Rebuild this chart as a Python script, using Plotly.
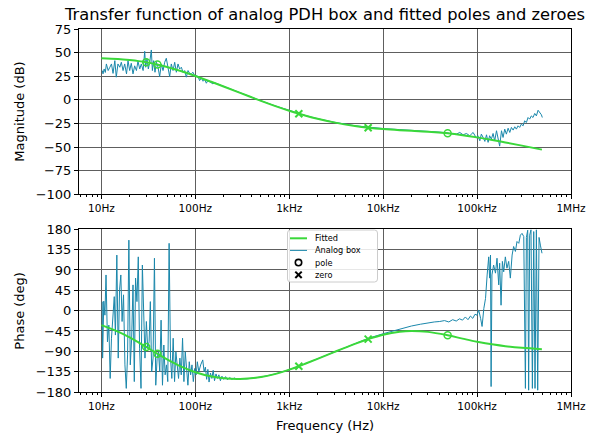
import plotly.graph_objects as go

# ---------------- data ----------------
tick_vals = [10, 100, 1e3, 1e4, 1e5, 1e6]
tick_text = ["10Hz", "100Hz", "1kHz", "10kHz", "100kHz", "1MHz"]

mag_yticks = [-100, -75, -50, -25, 0, 25, 50, 75]
phase_yticks = [-180, -135, -90, -45, 0, 45, 90, 135, 180]

legend_labels = ["Fitted", "Analog box", "pole", "zero"]

# measured "Analog box" magnitude
mag_freq_hz = [
    10.2, 10.4, 10.7, 11.0, 11.3, 11.8, 12.3, 12.8, 13.3, 13.9,
    14.4, 15.0, 15.7, 16.3, 17.0, 17.7, 18.5, 19.2, 20.0, 20.8,
    21.7, 22.6, 23.6, 24.5, 25.6, 26.6, 27.8, 28.9, 29.6, 30.6,
    31.6, 32.7, 34.0, 34.9, 36.0, 37.2, 38.5, 40.1, 41.7, 43.5,
    45.3, 47.2, 49.1, 51.2, 53.3, 55.5, 57.9, 60.3, 62.8, 65.4,
    68.1, 71.0, 73.9, 77.0, 80.2, 83.6, 87.0, 90.7, 94.4, 98.4,
    102, 107, 111, 116, 121, 126, 131, 136, 142, 148, 154,
    160, 170, 180, 200, 230, 260, 300, 400, 500, 700, 1000, 1500,
    2000, 3000, 5000, 7000, 10000, 15000, 20000, 25000, 30000,
    40000, 48000,
    51200, 60300, 65400, 71000, 77000, 83600, 90700, 98400, 102000, 107000,
    111000, 116000, 121000, 126000, 131000, 136000, 142000, 148000, 154000, 161000,
    167000, 174000, 182000, 189000, 197000, 205000, 214000, 223000, 232000, 242000,
    252000, 262000, 273000, 284000, 296000, 309000, 321000, 335000, 349000, 363000,
    378000, 394000, 411000, 428000, 446000, 464000, 484000, 495000,
]
mag_db = [
    31, 27.5, 32.7, 29, 38, 31, 34.5, 38, 28, 41.5,
    24, 38, 34.5, 39.8, 31, 38, 27.5, 41.5, 31, 38.7,
    27.5, 36, 31, 40.8, 32.7, 38, 31, 51.4, 34.5, 43.3,
    32.7, 39.8, 52.8, 31, 41.5, 29.2, 39.8, 34.5, 24.6, 38,
    31, 39.8, 44, 32.7, 24.6, 38, 31, 39.8, 29.2, 38,
    32.7, 34.5, 29.2, 31, 24, 31, 28, 27.5, 29.2, 25.7,
    25.7, 24.6, 20.4, 23.2, 19.7, 21.5, 17.6, 20.4, 19.4, 17.6, 16.9,
    18.2, 17.0, 16.0, 14.3, 12.0, 9.9, 7.5, 2.7, -1.0, -6.2, -11.4, -16.7,
    -19.9, -23.7, -27.4, -29.2, -30.4, -31.5, -32.1, -32.7, -33.2,
    -34.2, -34.9,
    -35.6, -36.3, -34.5, -37, -35.6, -38, -34.5, -40.5, -38, -43.3,
    -36.3, -39.8, -44, -37, -45, -38, -41.5, -35.6, -43.3, -32.7,
    -41.5, -49, -32.7, -39.8, -31, -36.3, -30, -34.5, -29.2, -32,
    -28.5, -31, -27.5, -29.2, -25.7, -27.5, -22.2, -24, -18.7, -20.4,
    -17, -18.7, -14.4, -17, -11, -13.4, -15.8, -18.7,
]

# measured "Analog box" phase
phase_freq_hz = [
    10.2, 10.3, 10.6, 10.9, 11.2, 11.6, 12.0, 12.4, 12.8, 13.3,
    13.7, 14.1, 14.6, 15.1, 15.6, 16.1, 16.6, 17.2, 17.8, 18.4,
    19.0, 19.6, 20.3, 21.0, 21.7, 22.4, 23.1, 23.9, 24.7, 25.5,
    26.4, 27.3, 28.2, 29.1, 30.1, 31.1, 32.2, 33.2, 34.3, 35.5,
    36.7, 37.9, 39.2, 40.5, 41.8, 43.2, 44.7, 46.2, 47.7, 49.3,
    50.9, 52.6, 54.4, 56.2, 58.1, 60.1, 62.1, 64.1, 66.3, 68.5,
    70.8, 73.1, 75.6, 78.1, 80.7, 83.4, 86.2, 89.1, 92.1, 95.2,
    98.4, 102, 105, 109, 114, 120, 124,
    128, 132, 136, 140, 145, 150, 155, 160, 166, 172,
    178, 185, 192, 200, 210, 220, 232, 245, 260, 280,
    300, 350, 400, 500, 700, 1000, 1500, 2000, 3000, 5000,
    7000, 10000, 13000, 16000, 20000, 25000, 30000, 35000, 40000, 45000,
    50000, 55000, 60000, 65000, 70000, 75000, 80000, 85000, 90000, 95000,
    100000, 104000, 109000, 113000, 118000, 123000, 128000, 133000, 136000, 139000,
    141000, 144000, 150000, 157000, 163000, 170000, 174000, 180000, 186000, 192000,
    200000, 208000, 217000, 226000, 236000, 245000, 256000, 266000, 278000, 289000,
    301000, 314000, 327000, 335000, 346000, 354000, 363000, 375000, 388000, 401000,
    414000, 428000, 442000, 457000, 472000, 491000,
]
phase_deg = [
    20, -105, 21, -10, 79, -69, -32, -150, -61, -10,
    31, -54, 123, -105, 46, 79, -24, 35, -120, -172,
    -98, 156, -120, -61, 57, -157, 72, 20, 119, -83,
    -172, 101, -32, -105, -24, -83, -69, 20, -135, -105,
    116, -165, -105, -91, -135, -21, -165, -76, -142, -120,
    -157, 149, -105, -150, -61, -157, -91, -128, -150, -105,
    -142, -61, -157, -91, -128, -165, -113, -142, -120, -157,
    -128, -142, -113, -135, -120, -109, -135,
    -125, -152, -130, -158, -138, -150, -132, -155, -140, -150,
    -142, -155, -145, -152, -146, -153, -148, -152, -149, -152,
    -150.5, -151, -149.5, -147, -140.4, -130.6, -117, -106.5, -91, -72,
    -61, -51, -44, -39, -34, -30, -27, -25, -24, -22,
    -25, -20, -23, -18, -21, -14, -20, -12, -17, -8,
    -10, 1.5, -17, -35, 5, 27, 79, 119, 72, 123,
    -168, 79, 101, 83, 116, 57, 105, 12, 109, 86,
    119, 94, 109, 72, 123, 142, 131, 153, 149, 167,
    171, 164, -172, 162, 178, -176, 167, 179, -172, 175,
    -172, 179, -176, 162, 145, 127,
]

# fitted transfer function (as drawn)
fit_freq_hz = [10, 15, 20, 25, 30, 40, 50, 70, 100, 150, 200, 300, 500, 700,
               1000, 1265, 1500, 2000, 3000, 5000, 7000, 10000, 15000, 20000,
               30000, 48600, 70000, 100000, 150000, 200000, 300000, 490000]
fit_mag_db = [44.0, 43.2, 42.1, 41.0, 39.75, 37.25, 34.84, 30.53, 25.3, 18.83,
              14.08, 7.33, -1.07, -6.34, -11.53, -14.65, -16.75, -19.98, -23.86,
              -27.69, -29.56, -30.97, -32.09, -32.73, -33.73, -35.48, -37.4,
              -39.73, -42.77, -45.1, -48.48, -52.69]
fit_phase_deg = [-32.0, -46.4, -59.2, -70.5, -80.3, -96.0, -107.8, -123.4, -136.3,
                 -145.9, -149.8, -151.2, -146.9, -140.4, -130.6, -123.0, -117.0,
                 -106.55, -91.6, -73.4, -62.6, -53.1, -46.5, -44.9, -46.95, -54.5,
                 -61.86, -68.7, -75.1, -78.66, -82.3, -85.3]

# fitted poles and zeroes
pole_freq_hz = [30, 39.5, 48600]
pole_mag_db = [39.75, 37.4, -35.48]
pole_phase_deg = [-80.3, -95.35, -54.5]
zero_freq_hz = [1265, 6920]
zero_mag_db = [-14.65, -29.5]
zero_phase_deg = [-122.96, -62.9]

# ---------------- styling ----------------
GREEN = "#3ad83a"
BLUE = "#1a87ab"
GRID = "#5e5e5e"
FONT = "DejaVu Sans"

W, H = 598, 436
ML, MR, MT, MB = 79, 27, 29, 44
PW, PH = W - ML - MR, H - MT - MB
top_dom = [0.5446, 1.0]
bot_dom = [0.0, 0.4482]


def px_x(px):
    return (px - ML) / PW


def px_y(py):
    return (H - MB - py) / PH


fig = go.Figure()


def add_set(fx, fy, ax, ay):
    pass


# magnitude panel
fig.add_trace(go.Scatter(x=mag_freq_hz, y=mag_db, mode="lines", name="Analog box",
                         line=dict(color=BLUE, width=1), xaxis="x", yaxis="y"))
fig.add_trace(go.Scatter(x=fit_freq_hz, y=fit_mag_db, mode="lines", name="Fitted",
                         line=dict(color=GREEN, width=2, shape="spline"),
                         xaxis="x", yaxis="y"))
fig.add_trace(go.Scatter(x=pole_freq_hz, y=pole_mag_db, mode="markers", name="pole",
                         marker=dict(symbol="circle-open", size=7, color=GREEN,
                                     line=dict(width=1.5, color=GREEN)),
                         xaxis="x", yaxis="y"))
fig.add_trace(go.Scatter(x=zero_freq_hz, y=zero_mag_db, mode="markers", name="zero",
                         marker=dict(symbol="x-thin", size=7, color=GREEN,
                                     line=dict(width=2, color=GREEN)),
                         xaxis="x", yaxis="y"))

# phase panel
fig.add_trace(go.Scatter(x=phase_freq_hz, y=phase_deg, mode="lines", name="Analog box",
                         line=dict(color=BLUE, width=1), xaxis="x2", yaxis="y2"))
fig.add_trace(go.Scatter(x=fit_freq_hz, y=fit_phase_deg, mode="lines", name="Fitted",
                         line=dict(color=GREEN, width=2, shape="spline"),
                         xaxis="x2", yaxis="y2"))
fig.add_trace(go.Scatter(x=pole_freq_hz, y=pole_phase_deg, mode="markers", name="pole",
                         marker=dict(symbol="circle-open", size=7, color=GREEN,
                                     line=dict(width=1.5, color=GREEN)),
                         xaxis="x2", yaxis="y2"))
fig.add_trace(go.Scatter(x=zero_freq_hz, y=zero_phase_deg, mode="markers", name="zero",
                         marker=dict(symbol="x-thin", size=7, color=GREEN,
                                     line=dict(width=2, color=GREEN)),
                         xaxis="x2", yaxis="y2"))

xaxis_common = dict(
    type="log", range=[0.7614, 6.0],
    tickmode="array", tickvals=tick_vals, ticktext=tick_text,
    ticks="outside", ticklen=4, tickwidth=1, tickcolor="black",
    showline=True, linecolor="black", linewidth=1, mirror=True,
    showgrid=True, gridcolor=GRID, gridwidth=1,
    zeroline=False,
    tickfont=dict(family=FONT, size=10.5, color="black"),
    minor=dict(ticks="outside", ticklen=2, tickcolor="black", dtick="D1",
               showgrid=False),
)
yaxis_common = dict(
    ticks="outside", ticklen=4, tickwidth=1, tickcolor="black",
    showline=True, linecolor="black", linewidth=1, mirror=True,
    showgrid=True, gridcolor=GRID, gridwidth=1,
    zeroline=False,
    tickfont=dict(family=FONT, size=13, color="black"),
)

# ---------------- compact legend (matplotlib style) ----------------
LEG_L, LEG_R, LEG_T, LEG_B = 287.5, 377.5, 230.0, 282.0
ROW_Y = [238.3, 250.4, 262.6, 274.8]
SAMPLE_X0, SAMPLE_X1 = 290.0, 307.0
TEXT_X = 313.0
r = 3.0
xl, xr_, yt, yb = px_x(LEG_L), px_x(LEG_R), px_y(LEG_T), px_y(LEG_B)
rx, ry = r / PW, r / PH
box_path = (
    f"M {xl + rx} {yt} L {xr_ - rx} {yt} Q {xr_} {yt} {xr_} {yt - ry} "
    f"L {xr_} {yb + ry} Q {xr_} {yb} {xr_ - rx} {yb} "
    f"L {xl + rx} {yb} Q {xl} {yb} {xl} {yb + ry} "
    f"L {xl} {yt - ry} Q {xl} {yt} {xl + rx} {yt} Z"
)
shapes = [
    dict(type="path", xref="paper", yref="paper", path=box_path,
         fillcolor="rgba(255,255,255,0.85)", line=dict(color="#cccccc", width=1),
         layer="above"),
    dict(type="line", xref="paper", yref="paper",
         x0=px_x(SAMPLE_X0), x1=px_x(SAMPLE_X1), y0=px_y(ROW_Y[0]), y1=px_y(ROW_Y[0]),
         line=dict(color=GREEN, width=2), layer="above"),
    dict(type="line", xref="paper", yref="paper",
         x0=px_x(SAMPLE_X0), x1=px_x(SAMPLE_X1), y0=px_y(ROW_Y[1]), y1=px_y(ROW_Y[1]),
         line=dict(color=BLUE, width=1), layer="above"),
]
mx = px_x((SAMPLE_X0 + SAMPLE_X1) / 2)
shapes.append(dict(type="circle", xref="paper", yref="paper",
                   xsizemode="pixel", ysizemode="pixel",
                   xanchor=mx, yanchor=px_y(ROW_Y[2]),
                   x0=-3.2, x1=3.2, y0=-3.2, y1=3.2,
                   line=dict(color="black", width=1.6), layer="above"))
for sgn in (1, -1):
    shapes.append(dict(type="line", xref="paper", yref="paper",
                       xsizemode="pixel", ysizemode="pixel",
                       xanchor=mx, yanchor=px_y(ROW_Y[3]),
                       x0=-3.2, x1=3.2, y0=-3.2 * sgn, y1=3.2 * sgn,
                       line=dict(color="black", width=2), layer="above"))

annotations = [
    dict(text="Magnitude (dB)", xref="paper", yref="paper", x=0,
         y=(top_dom[0] + top_dom[1]) / 2, xanchor="center", yanchor="middle",
         xshift=20 - ML, textangle=-90, showarrow=False,
         font=dict(family=FONT, size=13, color="black")),
    dict(text="Phase (deg)", xref="paper", yref="paper", x=0,
         y=(bot_dom[0] + bot_dom[1]) / 2, xanchor="center", yanchor="middle",
         xshift=20 - ML, textangle=-90, showarrow=False,
         font=dict(family=FONT, size=13, color="black")),
    dict(text="Frequency (Hz)", xref="paper", yref="paper", x=0.5, y=0,
         xanchor="center", yanchor="middle", yshift=-(425 - (H - MB)),
         showarrow=False, font=dict(family=FONT, size=13, color="black")),
]
for lab, ry_px in zip(legend_labels, ROW_Y):
    annotations.append(dict(text=lab, xref="paper", yref="paper",
                            x=px_x(TEXT_X), y=px_y(ry_px), xanchor="left",
                            yanchor="middle", showarrow=False,
                            font=dict(family=FONT, size=8.2, color="black")))

fig.update_layout(
    width=W, height=H,
    margin=dict(l=ML, r=MR, t=MT, b=MB, autoexpand=False),
    paper_bgcolor="white", plot_bgcolor="white",
    font=dict(family=FONT, color="black"),
    showlegend=False,
    xaxis=dict(**xaxis_common, anchor="y", domain=[0, 1]),
    yaxis=dict(**yaxis_common, anchor="x", domain=top_dom, range=[-100, 75],
               tickmode="array", tickvals=mag_yticks),
    xaxis2=dict(**xaxis_common, anchor="y2", domain=[0, 1]),
    yaxis2=dict(**yaxis_common, anchor="x2", domain=bot_dom, range=[-180, 180],
                tickmode="array", tickvals=phase_yticks),
    title=dict(text="Transfer function of analog PDH box and fitted poles and zeroes",
               x=0.5, xref="paper", xanchor="center",
               y=1 - 14.5 / H, yref="container", yanchor="middle",
               font=dict(family=FONT, size=16.3, color="black")),
    shapes=shapes,
    annotations=annotations,
)

fig.write_html("out.html")
